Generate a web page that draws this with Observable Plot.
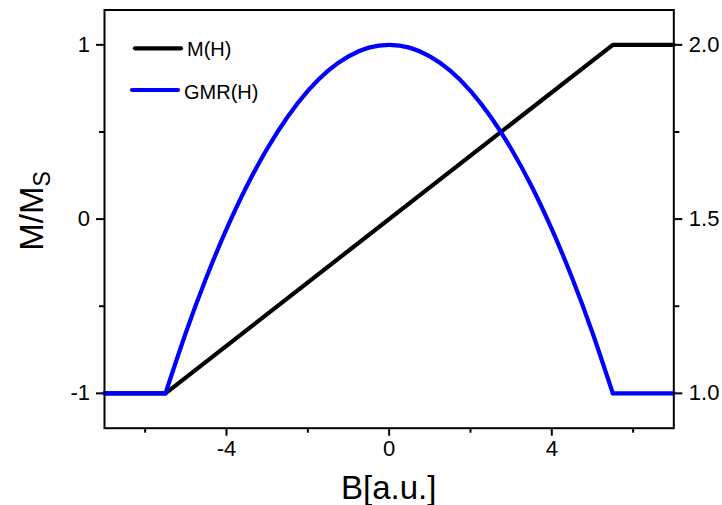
<!DOCTYPE html>
<html>
<head>
<meta charset="utf-8">
<script src="https://cdn.jsdelivr.net/npm/d3@7"></script>
<script src="https://cdn.jsdelivr.net/npm/@observablehq/plot@0.6"></script>
<style>
  html, body { margin: 0; padding: 0; background: white; }
  #chart svg { display: block; }
</style>
</head>
<body>
<div id="chart"></div>
<script>
// ---- data ----
const mB   = [-7, -5.5, 5.5, 7];
const mVal = [-1, -1, 1, 1];

const gB   = [-7, -5.5, -5, -4.5, -4, -3.5, -3, -2.5, -2, -1.5, -1, -0.5, 0, 0.5, 1, 1.5, 2, 2.5, 3, 3.5, 4, 4.5, 5, 5.5, 7];
const gVal = [1.0, 1.0, 1.174, 1.331, 1.471, 1.595, 1.702, 1.793, 1.868, 1.926, 1.967, 1.992, 2.0, 1.992, 1.967, 1.926, 1.868, 1.793, 1.702, 1.595, 1.471, 1.331, 1.174, 1.0, 1.0];
const gSatB = 5.5; // saturation field: GMR flat beyond ±5.5

const xMajorTicks = [-4, 0, 4];
const xMinorTicks = [-6, -2, 2, 6];
const leftMajorTicks = [-1, 0, 1];
const leftMinorTicks = [-0.5, 0.5];
const rightMajorTicks = [1.0, 1.5, 2.0];
const rightMinorTicks = [1.25, 1.75];

const seriesNames = ["M(H)", "GMR(H)"];
const xLabel = "B[a.u.]";

// right axis (GMR) maps onto left axis (M/Ms): 1.0 -> -1, 2.0 -> 1
const toLeft = g => 2 * (g - 1.5);
const toRight = v => v / 2 + 1.5;

const mRows = mB.map((b, i) => ({b, v: mVal[i]}));
const gAll = gB.map((b, i) => ({b, v: toLeft(gVal[i])}));
const gLow = gAll.filter(d => d.b <= -gSatB);
const gMid = gAll.filter(d => Math.abs(d.b) <= gSatB);
const gHigh = gAll.filter(d => d.b >= gSatB);

const font = "'Liberation Sans', Arial, sans-serif";
const blue = "#0000ff";

const chart = Plot.plot({
  width: 722,
  height: 505,
  marginTop: 9.5,
  marginRight: 48.7,
  marginBottom: 77.3,
  marginLeft: 104,
  x: {domain: [-7, 7]},
  y: {domain: [-1.2, 1.2]},
  style: {fontFamily: font, fontSize: "22px", color: "black", background: "white", overflow: "visible"},
  marks: [
    Plot.axisX(xMajorTicks, {tickSize: 8, tickPadding: 4, strokeWidth: 2, label: null, tickFormat: d => String(d)}),
    Plot.axisX(xMinorTicks, {tickSize: 5, strokeWidth: 2, label: null, tickFormat: () => ""}),
    Plot.axisY(leftMajorTicks, {anchor: "left", tickSize: 8, tickPadding: 6.5, strokeWidth: 2, label: null, tickFormat: d => String(d)}),
    Plot.axisY(leftMinorTicks, {anchor: "left", tickSize: 5, strokeWidth: 2, label: null, tickFormat: () => ""}),
    Plot.axisY(rightMajorTicks.map(toLeft), {anchor: "right", tickSize: 8, tickPadding: 7, strokeWidth: 2, label: null, tickFormat: d => toRight(d).toFixed(1)}),
    Plot.axisY(rightMinorTicks.map(toLeft), {anchor: "right", tickSize: 5, strokeWidth: 2, label: null, tickFormat: () => ""}),
    Plot.line(mRows, {x: "b", y: "v", stroke: "black", strokeWidth: 4.2, strokeLinejoin: "miter"}),
    Plot.line(gLow, {x: "b", y: "v", stroke: blue, strokeWidth: 4.2}),
    Plot.line(gHigh, {x: "b", y: "v", stroke: blue, strokeWidth: 4.2}),
    Plot.line(gMid, {x: "b", y: "v", stroke: blue, strokeWidth: 4.2, curve: "natural"}),
    Plot.frame({stroke: "black", strokeWidth: 2})
  ]
});

const svg = d3.select(chart);
const xs = chart.scale("x");
const xMid = (xs.range[0] + xs.range[1]) / 2;

// x axis title
svg.append("text")
  .attr("x", xMid).attr("y", 499)
  .attr("text-anchor", "middle")
  .attr("font-family", font).attr("font-size", 33).attr("fill", "black")
  .text(xLabel);

// y axis title with subscript
const yt = svg.append("text")
  .attr("transform", "translate(43,211) rotate(-90)")
  .attr("text-anchor", "middle")
  .attr("font-family", font).attr("font-size", 33).attr("fill", "black");
yt.append("tspan").text("M/M");
yt.append("tspan").attr("font-size", 23).attr("dy", 7).text("S");

// legend
const legend = svg.append("g")
  .attr("font-family", font).attr("font-size", 20).attr("fill", "black")
  .attr("text-anchor", "start");
const legendItems = [
  {name: seriesNames[0], color: "black", x1: 135, x2: 181, y: 48.3, tx: 187, ty: 55.7},
  {name: seriesNames[1], color: blue, x1: 132, x2: 178, y: 90, tx: 184, ty: 99}
];
for (const it of legendItems) {
  legend.append("line")
    .attr("x1", it.x1).attr("x2", it.x2).attr("y1", it.y).attr("y2", it.y)
    .attr("stroke", it.color).attr("stroke-width", 4.2).attr("stroke-linecap", "round");
  legend.append("text").attr("x", it.tx).attr("y", it.ty).attr("text-anchor", "start").text(it.name);
}

document.getElementById("chart").appendChild(chart);
</script>
</body>
</html>
